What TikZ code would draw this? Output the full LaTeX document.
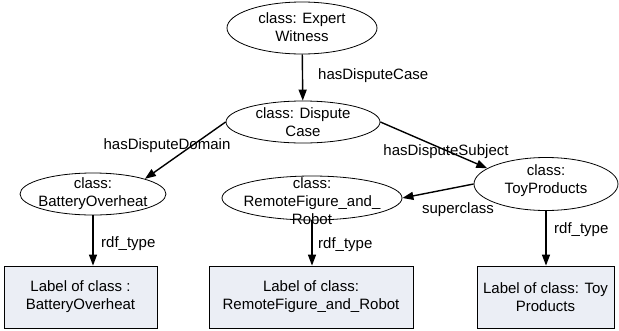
\documentclass[tikz,border=0pt]{standalone}
\usepackage{fontspec}
\setmainfont{Liberation Sans}
\usetikzlibrary{shapes.geometric,arrows.meta}
\definecolor{boxfill}{RGB}{235,238,245}
\begin{document}
\begin{tikzpicture}[x=1pt,y=-1pt,
  txt/.style={font=\fontsize{15}{18}\selectfont, align=center, inner sep=0pt},
  cls/.style={draw, ellipse, inner sep=0pt, line width=0.8pt},
  lbl/.style={draw, line width=0.8pt, fill=boxfill, minimum height=62pt, inner sep=0pt, txt},
  rel/.style={line width=1.4pt, -{Triangle[length=11pt,width=8pt]}}]
\useasboundingbox (0,0) rectangle (619,330);
% classes
\node[cls, minimum width=150pt, minimum height=52pt] (ew) at (302,28) {};
\node[txt] (ewt) at (302,27) {class: Expert\\Witness};
\node[cls, minimum width=154pt, minimum height=42pt] (dc) at (303,122) {};
\node[txt] (dct) at (303,122) {class: Dispute\\Case};
\node[cls, minimum width=146pt, minimum height=42pt] (bo) at (93,194) {};
\node[txt] (bot) at (93,194) {class:\\BatteryOverheat};
\node[cls, minimum width=180pt, minimum height=44pt] (rf) at (312,198) {};
\node[txt] (rft) at (312,201) {class:\\RemoteFigure\_and\_\\Robot};
\node[cls, minimum width=144pt, minimum height=53pt] (tp) at (546,184) {};
\node[txt] (tpt) at (546,181) {class:\\ToyProducts};
% label boxes
\node[lbl, minimum width=153pt] (b1) at (80.5,297) {Label of class :\\BatteryOverheat};
\node[lbl, minimum width=204pt] (b2) at (311,297) {Label of class:\\RemoteFigure\_and\_Robot};
\node[lbl, minimum width=137pt] (b3) at (545.5,297) {Label of class: Toy\\Products};
% connectors
\draw[rel] (ew) -- (dc);
\draw[rel] (dc.west) -- (bo.north east);
\draw[rel] (dc.east) -- (tp.165);
\draw[rel] (tp.west) -- (rf.east);
\draw[rel] (bo.south) -- (bo.south |- b1.north);
\draw[rel] (rf.south) -- (rf.south |- b2.north);
\draw[rel] (tp.south) -- (tp.south |- b3.north);
% edge labels
\node[txt, anchor=west] (l1) at (318,76) {hasDisputeCase};
\node[txt] (l2) at (167,146) {hasDisputeDomain};
\node[txt] (l3) at (446,152) {hasDisputeSubject};
\node[txt] (l4) at (458,210) {superclass};
\node[txt, anchor=west] (l5) at (101,244) {rdf\_type};
\node[txt, anchor=west] (l6) at (318,245) {rdf\_type};
\node[txt, anchor=west] (l7) at (554,230) {rdf\_type};
\end{tikzpicture}
\end{document}
